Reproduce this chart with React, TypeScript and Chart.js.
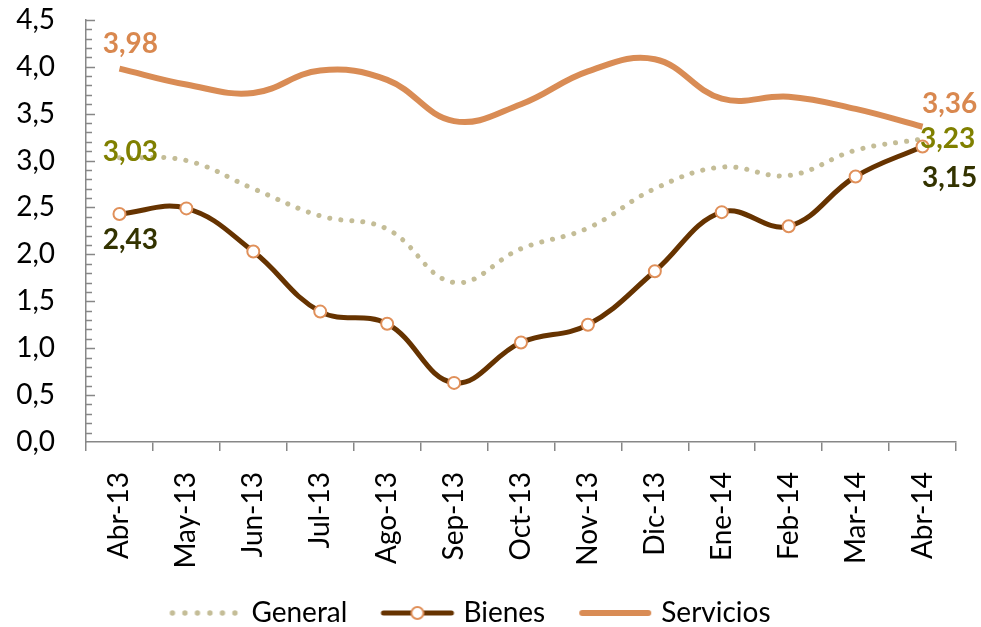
import React, { useEffect, useRef } from "react";
import { Chart, registerables } from "chart.js";

Chart.register(...registerables);

const categories = ["Abr-13", "May-13", "Jun-13", "Jul-13", "Ago-13", "Sep-13", "Oct-13", "Nov-13", "Dic-13", "Ene-14", "Feb-14", "Mar-14", "Abr-14"];
const general = [3.03, 3.0, 2.7, 2.41, 2.27, 1.7, 2.06, 2.28, 2.7, 2.93, 2.84, 3.11, 3.23];
const bienes = [2.43, 2.49, 2.03, 1.39, 1.26, 0.63, 1.06, 1.25, 1.82, 2.45, 2.3, 2.83, 3.15];
const servicios = [3.98, 3.81, 3.72, 3.96, 3.86, 3.42, 3.6, 3.95, 4.08, 3.66, 3.68, 3.55, 3.36];
const yMin = 0;
const yMax = 4.5;
const yStep = 0.5;
const yMinorStep = 0.1;

const FONT = "Lato";
const C_GENERAL = "#C4BD97";
const C_BIENES = "#663300";
const C_SERV = "#D98C55";
const C_MARK = "#E0905A";
const C_AXIS = "#878787";

const W = 981;
const H = 627;
const AXIS_LEFT = 86;
const AXIS_BOTTOM = 442;
const LEGEND_SHIFT_X = -20;
const LEGEND_SHIFT_Y = 10;

const fmt = (v: number) => v.toFixed(2).replace(".", ",");

// labels: dataset, index, dx, dy, color
const dataLabels = [
  { ds: 2, i: 0, dx: 11, dy: -25, color: "#D9884F" },
  { ds: 0, i: 0, dx: 11, dy: -6, color: "#808000" },
  { ds: 1, i: 0, dx: 11, dy: 26, color: "#333300" },
  { ds: 2, i: 12, dx: 27, dy: -23, color: "#D9884F" },
  { ds: 0, i: 12, dx: 25, dy: 0, color: "#808000" },
  { ds: 1, i: 12, dx: 27, dy: 32, color: "#333300" },
];

const BOX_W = 92;
const IMG_W = 104;

function makeLegendImg(kind: string) {
  const c = document.createElement("canvas");
  c.width = IMG_W;
  c.height = 16;
  const g = c.getContext("2d")!;
  const cy = 8;
  const x0 = IMG_W - 74;
  const x1 = IMG_W - 2;
  if (kind === "general") {
    g.fillStyle = C_GENERAL;
    for (let k = 0; k < 6; k++) {
      g.beginPath();
      g.arc(x0 + 3 + k * 12.5, cy, 2.7, 0, Math.PI * 2);
      g.fill();
    }
  } else if (kind === "bienes") {
    g.strokeStyle = C_BIENES;
    g.lineWidth = 5;
    g.lineCap = "round";
    g.beginPath();
    g.moveTo(x0 + 2, cy);
    g.lineTo(x1 - 2, cy);
    g.stroke();
    g.beginPath();
    g.arc((x0 + x1) / 2, cy, 6, 0, Math.PI * 2);
    g.fillStyle = "#fff";
    g.fill();
    g.lineWidth = 2;
    g.strokeStyle = C_MARK;
    g.stroke();
  } else {
    g.strokeStyle = C_SERV;
    g.lineWidth = 6;
    g.lineCap = "round";
    g.beginPath();
    g.moveTo(x0 + 3, cy);
    g.lineTo(x1 - 3, cy);
    g.stroke();
  }
  return c;
}

const labelPlugin = {
  id: "dataLabelsCustom",
  afterDatasetsDraw(chart: any) {
    const ctx = chart.ctx;
    ctx.save();
    ctx.font = `bold 28px ${FONT}`;
    ctx.textAlign = "center";
    ctx.textBaseline = "middle";
    for (const l of dataLabels) {
      const meta = chart.getDatasetMeta(l.ds);
      const el = meta.data[l.i];
      const val = chart.data.datasets[l.ds].data[l.i] as number;
      ctx.fillStyle = l.color;
      ctx.fillText(fmt(val), el.x + l.dx, el.y + l.dy);
    }
    ctx.restore();
  },
};

const yMinorTicks = {
  id: "yMinorTicks",
  afterDraw(chart: any) {
    const y = chart.scales.y;
    const ctx = chart.ctx;
    const x0 = chart.chartArea.left;
    ctx.save();
    ctx.strokeStyle = C_AXIS;
    ctx.lineWidth = 1.5;
    const n = Math.round((yMax - yMin) / yMinorStep);
    const per = Math.round(yStep / yMinorStep);
    for (let k = 1; k <= n; k++) {
      const v = yMin + k * yMinorStep;
      const py = Math.round(y.getPixelForValue(v)) + 0.5;
      const len = k % per === 0 ? 9 : 6;
      ctx.beginPath();
      ctx.moveTo(x0, py);
      ctx.lineTo(x0 + len, py);
      ctx.stroke();
    }
    ctx.restore();
  },
};

const legendShift = {
  id: "legendShift",
  afterLayout(chart: any) {
    const lg = chart.legend;
    if (lg) {
      lg.left += LEGEND_SHIFT_X;
      lg.right += LEGEND_SHIFT_X;
      lg.top += LEGEND_SHIFT_Y;
      lg.bottom += LEGEND_SHIFT_Y;
    }
  },
};

export default function App() {
  const ref = useRef<HTMLCanvasElement>(null);
  useEffect(() => {
    document.body.style.margin = "0";
    const imgs = [makeLegendImg("general"), makeLegendImg("bienes"), makeLegendImg("servicios")];
    const chart = new Chart(ref.current!, {
      type: "line",
      data: {
        labels: categories,
        datasets: [
          {
            label: "General",
            data: general,
            borderColor: C_GENERAL,
            borderWidth: 5,
            borderDash: [0.1, 11],
            borderCapStyle: "round",
            pointRadius: 0,
            tension: 0.4,
            order: 3,
          },
          {
            label: "Bienes",
            data: bienes,
            borderColor: C_BIENES,
            borderWidth: 5,
            pointRadius: 6,
            pointBorderWidth: 2,
            pointBorderColor: C_MARK,
            pointBackgroundColor: "#ffffff",
            tension: 0.4,
            order: 1,
          },
          {
            label: "Servicios",
            data: servicios,
            borderColor: C_SERV,
            borderWidth: 6,
            pointRadius: 0,
            tension: 0.4,
            order: 2,
          },
        ],
      },
      options: {
        responsive: false,
        animation: false,
        devicePixelRatio: 1,
        layout: { padding: { left: 0, right: 25, top: 2, bottom: 0 } },
        plugins: {
          tooltip: { enabled: false },
          legend: {
            position: "bottom",
            labels: {
              usePointStyle: true,
              pointStyleWidth: BOX_W,
              boxHeight: 16,
              padding: 10,
              color: "#000",
              font: { family: FONT, size: 28 },
              generateLabels: (ch: any) =>
                ch.data.datasets.map((d: any, i: number) => ({
                  text: d.label,
                  pointStyle: imgs[i],
                  fillStyle: "transparent",
                  strokeStyle: "transparent",
                  lineWidth: 0,
                  datasetIndex: i,
                  fontColor: "#000",
                })),
            },
          },
        },
        scales: {
          x: {
            offset: true,
            grid: { offset: true, drawOnChartArea: false, tickLength: 9, color: C_AXIS, lineWidth: 1.5 },
            border: { color: C_AXIS, width: 1.5 },
            ticks: {
              minRotation: 90,
              maxRotation: 90,
              padding: 21,
              color: "#000",
              font: { family: FONT, size: 28 },
            },
            afterFit: (s: any) => {
              const lh = s.chart.legend ? s.chart.legend.height : 0;
              s.height = H - AXIS_BOTTOM - lh;
            },
          },
          y: {
            min: yMin,
            max: yMax,
            grid: { display: false, drawTicks: true, tickLength: 28 },
            border: { color: C_AXIS, width: 1.5 },
            ticks: {
              stepSize: yStep,
              padding: 3,
              color: "#000",
              font: { family: FONT, size: 28 },
              callback: (v: any) => Number(v).toFixed(1).replace(".", ","),
            },
            afterFit: (s: any) => {
              s.width = AXIS_LEFT;
            },
          },
        },
      },
      plugins: [labelPlugin, yMinorTicks, legendShift],
    });
    return () => chart.destroy();
  }, []);
  return <canvas ref={ref} width={W} height={H} />;
}
